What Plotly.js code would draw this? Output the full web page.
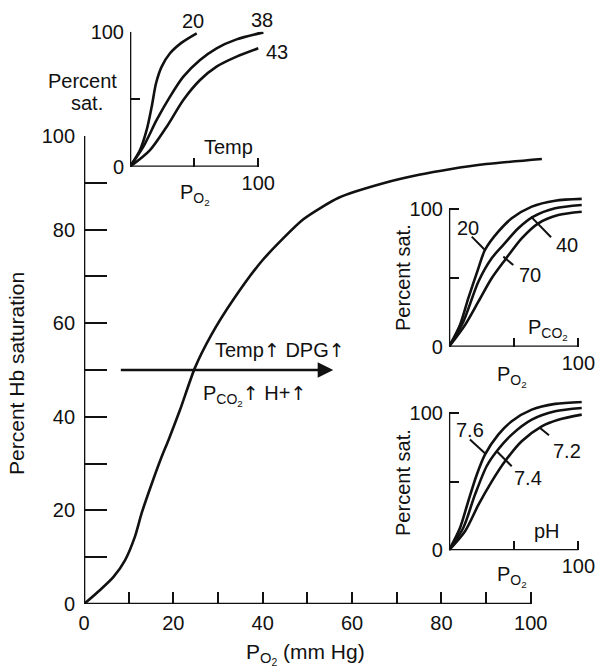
<!DOCTYPE html>
<html>
<head>
<meta charset="utf-8">
<script src="https://cdn.plot.ly/plotly-3.0.1.min.js"></script>
<style>html,body{margin:0;padding:0;background:#fff;}#chart{width:598px;height:667px;}</style>
</head>
<body>
<div id="chart"></div>
<script>
// ---- Main dissociation curve ----
const mainPO2 = [0, 3.6, 6.6, 9.2, 11.4, 12.9, 15.2, 17.4, 18.9, 21.5, 24.8, 28.5, 33.4, 40, 49.1, 57, 67, 75, 81.9, 90, 102.5];
const mainSat = [0, 3.0, 5.8, 9.4, 14.4, 19.4, 25.8, 31.5, 35.0, 41.5, 50.4, 57.5, 65, 73.5, 82.2, 86.8, 89.9, 91.7, 92.9, 94, 95.1];

// ---- Inset: temperature ----
const temp20X = [0, 7.8, 13, 16.9, 20.3, 24.7, 31.2, 40.3, 52];
const temp20Y = [0, 12.3, 27.2, 44.4, 61.8, 74.1, 84, 91.9, 98.8];
const temp38X = [0, 10.4, 20.8, 31.2, 41.6, 54.6, 67.5, 83.1, 104];
const temp38Y = [0, 14.8, 34.6, 51.9, 66.7, 79, 87.7, 94.3, 99.5];
const temp43X = [0, 15.6, 28.6, 41.6, 54.6, 67.5, 83.1, 100];
const temp43Y = [0, 12.3, 29.6, 49.4, 64.2, 74.1, 81.5, 87.7];

// ---- Inset: PCO2 ----
const co2_20X = [0, 8.5, 14.9, 22.7, 27.8, 38.1, 48.5, 64, 82, 102.6];
const co2_20Y = [0, 15.8, 35.1, 56.9, 70.2, 83.5, 93.2, 101.7, 106, 107.3];
const co2_40X = [0, 11.1, 22.7, 33, 42, 53.6, 65.2, 82, 102.6];
const co2_40Y = [0, 18.2, 47.2, 64.2, 73.9, 86, 94.4, 100.5, 102.9];
const co2_70X = [0, 12.4, 22.7, 33, 43.3, 56.2, 69.1, 84.5, 102.6];
const co2_70Y = [0, 15.8, 32.7, 49.7, 63, 78.7, 89.6, 95.6, 98];

// ---- Inset: pH ----
const ph76X = [0, 8.5, 14.9, 21.4, 27.8, 38.1, 48.5, 64, 82, 102.6];
const ph76Y = [0, 16.2, 35.7, 54.8, 69.6, 84.2, 94, 102.4, 106.6, 108];
const ph74X = [0, 11, 20.1, 29.1, 36.9, 48.5, 64, 82, 102.6];
const ph74Y = [0, 16.2, 40.5, 61.2, 72.1, 84.2, 95.1, 101.2, 103.6];
const ph72X = [0, 12.4, 22.7, 33, 43.3, 56.2, 71.7, 84.5, 102.6];
const ph72Y = [0, 13.8, 33, 50, 64.8, 79.4, 90.3, 95.1, 98.8];

// ---- Tick labels ----
const mainTickVals = [0, 20, 40, 60, 80, 100];
const mainTickText = ['0', '20', '40', '60', '80', '100'];
const mainMinorTicks = [10, 30, 50, 70, 90];
const insetYTickVals = [0, 100];
const insetYTickText = ['0', '100'];
const insetXTickVals = [100];
const insetXTickText = ['100'];
const insetMinorTicks = [50];

const FONT = 'Liberation Sans, Arial, Helvetica, sans-serif';
const PO2 = 'P<sub>O<sub>2</sub></sub>';
const PCO2 = 'P<sub>CO<sub>2</sub></sub>';
const UP = '<span style="font-family:DejaVu Sans;font-size:19px">↑</span>';

function curve(x, y, xa, ya, smoothing) {
  return {x: x, y: y, xaxis: xa, yaxis: ya, mode: 'lines', type: 'scatter',
    line: {color: '#111', width: 2.6, shape: 'spline', smoothing: smoothing},
    hoverinfo: 'skip'};
}

const traces = [
  curve(mainPO2, mainSat, 'x', 'y', 0.6),
  curve(temp20X, temp20Y, 'x2', 'y2', 0.8),
  curve(temp38X, temp38Y, 'x2', 'y2', 0.8),
  curve(temp43X, temp43Y, 'x2', 'y2', 0.8),
  curve(co2_20X, co2_20Y, 'x3', 'y3', 0.8),
  curve(co2_40X, co2_40Y, 'x3', 'y3', 0.8),
  curve(co2_70X, co2_70Y, 'x3', 'y3', 0.8),
  curve(ph76X, ph76Y, 'x4', 'y4', 0.8),
  curve(ph74X, ph74Y, 'x4', 'y4', 0.8),
  curve(ph72X, ph72Y, 'x4', 'y4', 0.8)
];

function axis(extra, minorVals, len) {
  return Object.assign({
    showgrid: false, zeroline: false, showline: false, ticks: 'inside',
    tickwidth: 2, tickcolor: '#111', fixedrange: true, ticklen: len,
    tickfont: {family: FONT, size: 20, color: '#111'},
    minor: {tickvals: minorVals, ticks: 'inside', ticklen: len, tickwidth: 2, tickcolor: '#111', showgrid: false}
  }, extra);
}

function axisLines(xa, ya) {
  const st = {color: '#111', width: 2.6};
  return [
    {type: 'line', xref: xa, yref: ya, x0: 0, x1: 100, y0: 0, y1: 0, line: st},
    {type: 'line', xref: xa, yref: ya, x0: 0, x1: 0, y0: 0, y1: 100, line: st}
  ];
}
function leader(xa, ya, x0, y0, x1, y1) {
  return {type: 'line', xref: xa, yref: ya, x0: x0, y0: y0, x1: x1, y1: y1,
    line: {color: '#111', width: 2}};
}

const shapes = [].concat(
  axisLines('x', 'y'), axisLines('x2', 'y2'), axisLines('x3', 'y3'), axisLines('x4', 'y4'),
  [
    leader('x3', 'y3', 17.6, 79.9, 27.8, 70.2),
    leader('x3', 'y3', 42, 65.4, 49.7, 59.3),
    leader('x3', 'y3', 63.4, 94.4, 78.9, 79.5),
    leader('x4', 'y4', 16.2, 80.6, 28.4, 70.1),
    leader('x4', 'y4', 36.9, 72.1, 48.5, 61.2),
    leader('x4', 'y4', 70.4, 89.1, 77.3, 83.8)
  ]
);

function txt(text, xa, ya, x, y, opts) {
  return Object.assign({text: text, xref: xa, yref: ya, x: x, y: y, showarrow: false,
    xanchor: 'center', yanchor: 'middle',
    font: {family: FONT, size: 20, color: '#111'}}, opts || {});
}
function ptxt(text, x, y, opts) { return txt(text, 'paper', 'paper', x, y, opts); }

const annotations = [
  // main axis titles
  ptxt('Percent Hb saturation', 0.0284, 0.4408, {textangle: -90, font: {family: FONT, size: 21, color: '#111'}}),
  ptxt(PO2 + ' (mm Hg)', 0.5117, 0.0195, {font: {family: FONT, size: 21, color: '#111'}}),
  // shift arrow
  {x: 55.8, y: 50, ax: 7.9, ay: 50, xref: 'x', yref: 'y', axref: 'x', ayref: 'y',
   showarrow: true, arrowhead: 2, arrowsize: 1.3, arrowwidth: 2.4, arrowcolor: '#111', text: ''},
  txt('Temp' + UP + ' DPG' + UP, 'x', 'y', 43.9, 54.3),
  txt(PCO2 + UP + ' H+' + UP, 'x', 'y', 38.2, 44.6),
  // inset 1: temperature
  ptxt('20', 0.3233, 0.9690),
  ptxt('38', 0.4376, 0.9700),
  ptxt('43', 0.4627, 0.9220),
  ptxt('Percent', 0.1380, 0.8786),
  ptxt('sat.', 0.1463, 0.8456),
  txt('Temp', 'x2', 'y2', 76.6, 14.8),
  ptxt(PO2, 0.3261, 0.7090),
  // inset 2: PCO2
  txt('20', 'x3', 'y3', 14.9, 86),
  txt('40', 'x3', 'y3', 91, 73.9),
  txt('70', 'x3', 'y3', 62.6, 52.1),
  txt(PCO2, 'x3', 'y3', 76.2, 12.5),
  ptxt('Percent sat.', 0.6739, 0.5847, {textangle: -90}),
  ptxt(PO2, 0.8562, 0.4350),
  // inset 3: pH
  txt('7.6', 'x4', 'y4', 16.2, 87.8),
  txt('7.4', 'x4', 'y4', 61.3, 52.7),
  txt('7.2', 'x4', 'y4', 91, 72.1),
  txt('pH', 'x4', 'y4', 75.6, 13.8),
  ptxt('Percent sat.', 0.6739, 0.2774, {textangle: -90}),
  ptxt(PO2, 0.8562, 0.1350)
];

const layout = {
  width: 598, height: 667,
  margin: {l: 0, r: 0, t: 0, b: 0},
  paper_bgcolor: '#fff', plot_bgcolor: 'rgba(0,0,0,0)',
  showlegend: false,
  font: {family: FONT, color: '#111'},
  xaxis: axis({domain: [0.1405, 0.9099], range: [0, 103], anchor: 'y',
    tickvals: mainTickVals, ticktext: mainTickText, ticklabelstandoff: 5}, mainMinorTicks, 12),
  yaxis: axis({domain: [0.09445, 0.7961], range: [0, 100], anchor: 'x',
    tickvals: mainTickVals, ticktext: mainTickText, ticklabelstandoff: 8}, mainMinorTicks, 23),
  xaxis2: axis({domain: [0.2174, 0.4426], range: [0, 105], anchor: 'y2',
    tickvals: insetXTickVals, ticktext: insetXTickText, ticklabelstandoff: 2}, insetMinorTicks, 9),
  yaxis2: axis({domain: [0.7501, 0.9525], range: [0, 100], anchor: 'x2',
    tickvals: insetYTickVals, ticktext: insetYTickText, ticklabelstandoff: 5}, insetMinorTicks, 10),
  xaxis3: axis({domain: [0.7508, 0.9758], range: [0, 104], anchor: 'y3',
    tickvals: insetXTickVals, ticktext: insetXTickText, ticklabelstandoff: 2}, insetMinorTicks, 9),
  yaxis3: axis({domain: [0.4802, 0.7053], range: [0, 109], anchor: 'x3',
    tickvals: insetYTickVals, ticktext: insetYTickText, ticklabelstandoff: 5}, insetMinorTicks, 10),
  xaxis4: axis({domain: [0.7508, 0.9758], range: [0, 104], anchor: 'y4',
    tickvals: insetXTickVals, ticktext: insetXTickText, ticklabelstandoff: 2}, insetMinorTicks, 9),
  yaxis4: axis({domain: [0.175, 0.3994], range: [0, 109], anchor: 'x4',
    tickvals: insetYTickVals, ticktext: insetYTickText, ticklabelstandoff: 5}, insetMinorTicks, 10),
  shapes: shapes,
  annotations: annotations
};

Plotly.newPlot('chart', traces, layout, {staticPlot: true, displayModeBar: false});
</script>
</body>
</html>
